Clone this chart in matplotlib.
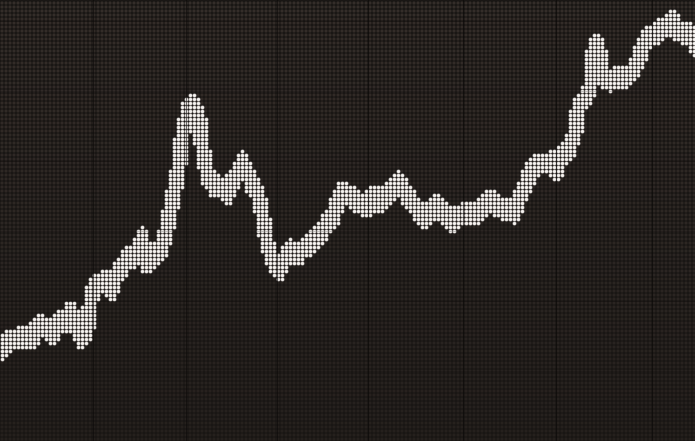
import numpy as np
import matplotlib.pyplot as plt
from matplotlib.colors import LinearSegmentedColormap

# Kurstafel: Verlauf eines Index auf einer LED-Punktmatrix

# Handelszeitpunkt (horizontale Position auf der Tafel) und Kursniveau
zeit = [0, 8, 20, 33, 38, 48, 53, 58, 66, 70, 75, 80, 86, 90, 95, 105, 112,
        117, 128, 138, 142, 146, 152, 160, 166, 172, 177, 180, 183, 187, 193,
        198, 202, 207, 213, 222, 227, 232, 238, 242, 247, 252, 258, 263, 267,
        273, 279, 284, 290, 297, 303, 310, 316, 322, 328, 333, 337, 341, 348,
        355, 362, 368, 373, 380, 386, 392, 397, 402, 408, 414, 420, 425, 431,
        436, 441, 447, 452, 458, 465, 472, 478, 485, 490, 497, 503, 508, 513,
        518, 522, 527, 532, 538, 545, 550, 556, 561, 568, 574, 578, 583, 589,
        592, 596, 600, 604, 610, 618, 625, 631, 636, 641, 646, 652, 658, 663,
        668, 672, 676, 681, 687, 692, 695]
kurs = [91, 101, 103, 105, 116, 114, 108, 119, 121, 129, 116, 105, 108, 141,
        156, 161, 153, 169, 183, 186, 203, 179, 186, 191, 213, 241, 266, 291,
        311, 331, 336, 326, 291, 266, 256, 253, 248, 261, 269, 279, 269, 256,
        246, 221, 196, 179, 171, 183, 191, 186, 193, 196, 203, 211, 219, 226,
        241, 249, 246, 241, 236, 236, 246, 241, 244, 253, 259, 254, 244, 236,
        228, 223, 231, 238, 231, 223, 219, 226, 229, 229, 229, 236, 241, 236,
        231, 231, 229, 241, 251, 261, 273, 278, 278, 279, 271, 286, 291, 306,
        336, 341, 351, 386, 396, 386, 363, 361, 366, 363, 369, 379, 391, 401,
        406, 411, 413, 416, 421, 411, 409, 409, 403, 396]

breite, hoehe = 695, 441
raster = 4.0
rx, ry = 7.5, 11.5   # halbe Strichbreite / -hoehe

# LED-Raster
gx = np.arange(raster / 2, breite, raster)
gy = np.arange(raster / 2, hoehe, raster)
X, Y = np.meshgrid(gx, gy)
px, py = X.ravel(), Y.ravel()

# welche LEDs leuchten: Abstand zur Kurslinie (elliptischer Pinsel)
t = np.array(zeit, dtype=float)
k = np.array(kurs, dtype=float)
ax_, ay_ = t[:-1] / rx, k[:-1] / ry
bx_, by_ = t[1:] / rx, k[1:] / ry
qx, qy = px[:, None] / rx, py[:, None] / ry
dx, dy = bx_ - ax_, by_ - ay_
laenge = dx ** 2 + dy ** 2
u = np.clip(((qx - ax_) * dx + (qy - ay_) * dy) / laenge, 0, 1)
dist = np.hypot(qx - (ax_ + u * dx), qy - (ay_ + u * dy)).min(axis=1)
an = dist <= 1.0

fig = plt.figure(figsize=(6.95, 4.41), dpi=100)
ax = fig.add_axes([0, 0, 1, 1])
ax.set_facecolor('#191614')

# dunkle LEDs, oben etwas heller (braeunlich)
cmap = LinearSegmentedColormap.from_list('tafel', ['#25201d', '#342d29'])
ax.scatter(px[~an], py[~an], s=5, marker='o', c=py[~an], cmap=cmap,
           vmin=0, vmax=hoehe, linewidths=0)

# leuchtende LEDs
ax.scatter(px[an], py[an], s=8.5, marker='o', color='#a8a3a0', linewidths=0)
ax.scatter(px[an] - 0.3, py[an] + 0.3, s=4.5, marker='o', color='#f6f3f0',
           linewidths=0)

# Fugen zwischen den Modulen
for xs in [93, 186, 277, 368, 463, 556, 652]:
    ax.axvline(xs, color='#0b0908', lw=0.8, alpha=0.6)
for ys in [70, 140, 210, 280, 350, 420]:
    ax.axhline(ys, color='#0b0908', lw=0.6, alpha=0.25)

ax.set_xlim(0, breite)
ax.set_ylim(0, hoehe)
ax.axis('off')
fig.savefig('out.png', dpi=100, facecolor='#191614')
